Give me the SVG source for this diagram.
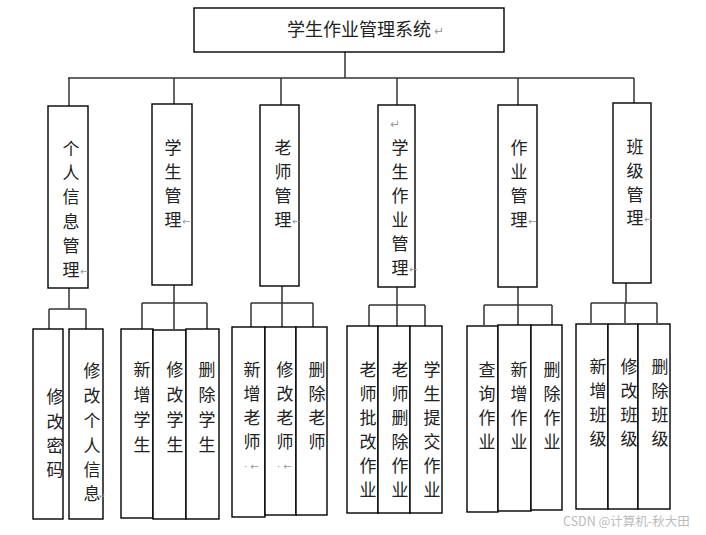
<svg xmlns="http://www.w3.org/2000/svg" width="706" height="535" viewBox="0 0 706 535">
<style>
.box{fill:#fff;stroke:#000;stroke-width:1.4}
.ln{stroke:#333;stroke-width:1.5;fill:none}
.t{font-family:"Noto Sans CJK SC","Noto Sans CJK TC",sans-serif;font-size:17px;fill:#222;text-anchor:middle}
.m{font-family:"DejaVu Sans",sans-serif;font-size:10px;fill:#999}
.wm{font-family:"Noto Sans CJK SC",sans-serif;font-size:12.5px;fill:#bbb}
</style>
<rect width="706" height="535" fill="#fff"/>
<g id="connectors">
<path class="ln" d="M345 52V78M68 78H634M69 78V106M174 78V104M281 78V105M397 78V105M518 78V105M634 78V103"/>
<path class="ln" d="M69 288V309M49 309H86M49 309V329M86 309V329"/>
<path class="ln" d="M174 285V303M142 303H207M142 303V329M174 303V329M207 303V329"/>
<path class="ln" d="M282 286V303M251 303H313M251 303V327M282 303V327M313 303V327"/>
<path class="ln" d="M397 287V305M369 305H425M369 305V326M397 305V326M425 305V326"/>
<path class="ln" d="M518 287V305M484 305H552M484 305V325M518 305V325M552 305V325"/>
<path class="ln" d="M626 283V303M591 303H657M591 303V323M625 303V323M657 303V323"/>
</g>
<g id="root"><rect class="box" x="194" y="8" width="310" height="44"/>
<text x="359" y="36" class="t" style="font-size:18px">学生作业管理系统</text><text x="434" y="35" class="m" style="font-size:12px">↵</text></g>
<g id="n1"><rect class="box" x="48" y="106" width="40" height="182"/>
<text class="t"><tspan x="71" y="155">个</tspan><tspan x="71" y="179">人</tspan><tspan x="71" y="203">信</tspan><tspan x="71" y="228">息</tspan><tspan x="71" y="252">管</tspan><tspan x="71" y="276">理</tspan></text><text x="80" y="275" class="m">←</text></g>
<g id="n2"><rect class="box" x="152" y="104" width="40" height="181"/>
<text class="t"><tspan x="173" y="154">学</tspan><tspan x="173" y="178">生</tspan><tspan x="173" y="202">管</tspan><tspan x="173" y="226">理</tspan></text><text x="182" y="225" class="m">←</text></g>
<g id="n3"><rect class="box" x="260" y="105" width="39" height="181"/>
<text class="t"><tspan x="283" y="154">老</tspan><tspan x="283" y="178">师</tspan><tspan x="283" y="202">管</tspan><tspan x="283" y="226">理</tspan></text><text x="292" y="225" class="m">←</text></g>
<g id="n4"><rect class="box" x="378" y="105" width="37" height="182"/>
<text x="390" y="128" class="m" style="font-size:12px">↵</text>
<text class="t"><tspan x="400" y="154">学</tspan><tspan x="400" y="178">生</tspan><tspan x="400" y="202">作</tspan><tspan x="400" y="226">业</tspan><tspan x="400" y="250">管</tspan><tspan x="400" y="274">理</tspan></text><text x="409" y="273" class="m">←</text></g>
<g id="n5"><rect class="box" x="498" y="105" width="39" height="182"/>
<text class="t"><tspan x="519" y="154">作</tspan><tspan x="519" y="178">业</tspan><tspan x="519" y="202">管</tspan><tspan x="519" y="226">理</tspan></text><text x="528" y="225" class="m">←</text></g>
<g id="n6"><rect class="box" x="613" y="103" width="38" height="180"/>
<text class="t"><tspan x="635" y="153">班</tspan><tspan x="635" y="177">级</tspan><tspan x="635" y="201">管</tspan><tspan x="635" y="224">理</tspan></text><text x="644" y="223" class="m">←</text></g>
<g id="n1a"><rect class="box" x="33" y="329" width="30" height="190"/>
<text class="t"><tspan x="55" y="403">修</tspan><tspan x="55" y="428">改</tspan><tspan x="55" y="452">密</tspan><tspan x="55" y="476">码</tspan></text></g>
<g id="n1b"><rect class="box" x="69" y="329" width="34" height="190"/>
<text class="t"><tspan x="92" y="377">修</tspan><tspan x="92" y="402">改</tspan><tspan x="92" y="427">个</tspan><tspan x="92" y="452">人</tspan><tspan x="92" y="476">信</tspan><tspan x="92" y="500">息</tspan></text><text x="99" y="499" class="m" style="font-size:8px">↵</text></g>
<g id="n2a"><rect class="box" x="121" y="329" width="32" height="189"/>
<text class="t"><tspan x="142" y="376">新</tspan><tspan x="142" y="401">增</tspan><tspan x="142" y="426">学</tspan><tspan x="142" y="451">生</tspan></text></g>
<g id="n2b"><rect class="box" x="153" y="330" width="33" height="189"/>
<text class="t"><tspan x="175" y="376">修</tspan><tspan x="175" y="401">改</tspan><tspan x="175" y="426">学</tspan><tspan x="175" y="451">生</tspan></text></g>
<g id="n2c"><rect class="box" x="186" y="329" width="33" height="190"/>
<text class="t"><tspan x="207" y="376">删</tspan><tspan x="207" y="401">除</tspan><tspan x="207" y="426">学</tspan><tspan x="207" y="451">生</tspan></text></g>
<g id="n3a"><rect class="box" x="232" y="327" width="33" height="190"/>
<text class="t"><tspan x="252" y="376">新</tspan><tspan x="252" y="400">增</tspan><tspan x="252" y="424">老</tspan><tspan x="252" y="448">师</tspan></text><text x="244" y="470" class="m">· ←</text></g>
<g id="n3b"><rect class="box" x="265" y="327" width="31" height="188"/>
<text class="t"><tspan x="285" y="376">修</tspan><tspan x="285" y="400">改</tspan><tspan x="285" y="424">老</tspan><tspan x="285" y="448">师</tspan></text><text x="277" y="470" class="m">· ←</text></g>
<g id="n3c"><rect class="box" x="296" y="327" width="31" height="188"/>
<text class="t"><tspan x="317" y="376">删</tspan><tspan x="317" y="400">除</tspan><tspan x="317" y="424">老</tspan><tspan x="317" y="448">师</tspan></text></g>
<g id="n4a"><rect class="box" x="347" y="326" width="31" height="187"/>
<text class="t"><tspan x="368" y="376">老</tspan><tspan x="368" y="400">师</tspan><tspan x="368" y="424">批</tspan><tspan x="368" y="448">改</tspan><tspan x="368" y="472">作</tspan><tspan x="368" y="496">业</tspan></text></g>
<g id="n4b"><rect class="box" x="378" y="326" width="32" height="187"/>
<text class="t"><tspan x="400" y="376">老</tspan><tspan x="400" y="400">师</tspan><tspan x="400" y="424">删</tspan><tspan x="400" y="448">除</tspan><tspan x="400" y="472">作</tspan><tspan x="400" y="496">业</tspan></text></g>
<g id="n4c"><rect class="box" x="410" y="326" width="32" height="187"/>
<text class="t"><tspan x="432" y="376">学</tspan><tspan x="432" y="400">生</tspan><tspan x="432" y="424">提</tspan><tspan x="432" y="448">交</tspan><tspan x="432" y="472">作</tspan><tspan x="432" y="496">业</tspan></text></g>
<g id="n5a"><rect class="box" x="467" y="326" width="31" height="186"/>
<text class="t"><tspan x="487" y="376">查</tspan><tspan x="487" y="400">询</tspan><tspan x="487" y="424">作</tspan><tspan x="487" y="448">业</tspan></text></g>
<g id="n5b"><rect class="box" x="498" y="325" width="33" height="186"/>
<text class="t"><tspan x="519" y="376">新</tspan><tspan x="519" y="400">增</tspan><tspan x="519" y="424">作</tspan><tspan x="519" y="448">业</tspan></text></g>
<g id="n5c"><rect class="box" x="531" y="325" width="31" height="185"/>
<text class="t"><tspan x="552" y="376">删</tspan><tspan x="552" y="400">除</tspan><tspan x="552" y="424">作</tspan><tspan x="552" y="448">业</tspan></text></g>
<g id="n6a"><rect class="box" x="576" y="324" width="32" height="185"/>
<text class="t"><tspan x="598" y="373">新</tspan><tspan x="598" y="397">增</tspan><tspan x="598" y="421">班</tspan><tspan x="598" y="445">级</tspan></text></g>
<g id="n6b"><rect class="box" x="608" y="324" width="30" height="185"/>
<text class="t"><tspan x="629" y="373">修</tspan><tspan x="629" y="397">改</tspan><tspan x="629" y="421">班</tspan><tspan x="629" y="445">级</tspan></text></g>
<g id="n6c"><rect class="box" x="638" y="324" width="32" height="185"/>
<text class="t"><tspan x="660" y="373">删</tspan><tspan x="660" y="397">除</tspan><tspan x="660" y="421">班</tspan><tspan x="660" y="445">级</tspan></text></g>
<text x="563" y="526" class="wm">CSDN @计算机-秋大田</text>
</svg>
